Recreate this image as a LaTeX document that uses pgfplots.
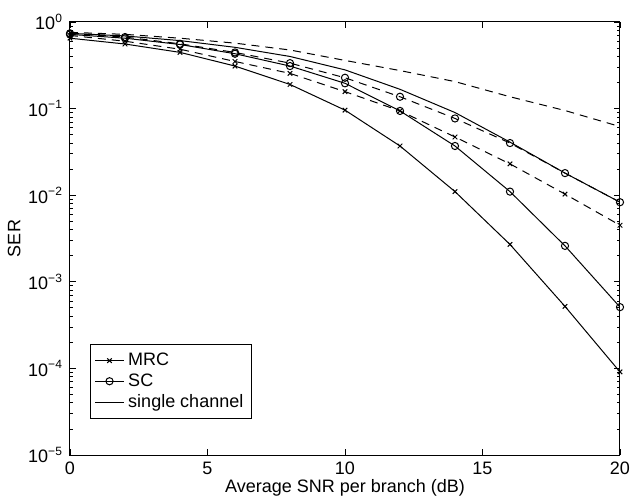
\documentclass[border=0pt]{standalone}
\usepackage{fontspec}
\setmainfont{Liberation Sans}
\usepackage{pgfplots}
\pgfplotsset{compat=1.18}

\begin{document}
\begin{tikzpicture}[font=\fontsize{9}{10.5}\selectfont]
\begin{axis}[
  name=ax,
  scale only axis,
  width=275pt, height=216.5pt,
  ymode=log,
  xmin=0, xmax=20, ymin=1e-5, ymax=1,
  xtick={0,5,10,15,20},
  ytick={1e-5,1e-4,1e-3,1e-2,1e-1,1},
  yticklabels={10\textsuperscript{−5},10\textsuperscript{−4},10\textsuperscript{−3},10\textsuperscript{−2},10\textsuperscript{−1},10\textsuperscript{0}},
  /pgf/number format/assume math mode=true,
  xlabel={Average SNR per branch (dB)},
  ylabel={SER},
  xlabel style={yshift=4.5pt},
  ylabel style={yshift=-3pt},
  major tick length=3pt, minor tick length=1.5pt,
  every axis plot/.append style={line width=0.5pt, black},
  axis line style={line width=0.5pt},
  every tick/.style={black, line width=0.4pt},
  legend style={at={(0.036,0.083)}, anchor=south west, draw=black, line width=0.6pt,
    row sep=-1.5pt, inner sep=2.2pt, font=\fontsize{9}{10.5}\selectfont},
  legend cell align=left,
  legend image code/.code={
    \draw[#1] (0cm,0cm) -- (0.5cm,0cm);
    \draw[#1] plot coordinates {(0.25cm,0cm)};
  },
]
% MRC (solid)
\addplot[mark=x, mark size=1.6pt] coordinates {
  (0,0.65) (2,0.557) (4,0.446) (6,0.31) (8,0.19) (10,0.096)
  (12,0.037) (14,0.011) (16,0.0027) (18,0.00052) (20,0.000091)
};
\addlegendentry{MRC}
% SC (solid)
\addplot[mark=o, mark size=1.8pt] coordinates {
  (0,0.72) (2,0.65) (4,0.55) (6,0.43) (8,0.31) (10,0.196)
  (12,0.094) (14,0.037) (16,0.011) (18,0.0026) (20,0.00051)
};
\addlegendentry{SC}
% single channel (solid)
\addplot[no marks] coordinates {
  (0,0.74) (2,0.69) (4,0.61) (6,0.51) (8,0.40) (10,0.28)
  (12,0.167) (14,0.09) (16,0.041) (18,0.018) (20,0.0083)
};
\addlegendentry{single channel}
% dashed curves
\addplot[forget plot, mark=x, mark size=1.6pt, dash pattern=on 4pt off 3pt,
  mark options={solid}] coordinates {
  (0,0.70) (2,0.60) (4,0.485) (6,0.35) (8,0.255) (10,0.157)
  (12,0.094) (14,0.047) (16,0.023) (18,0.0103) (20,0.0045)
};
\addplot[forget plot, mark=o, mark size=1.8pt, dash pattern=on 4pt off 3pt,
  mark options={solid}] coordinates {
  (0,0.74) (2,0.67) (4,0.56) (6,0.445) (8,0.335) (10,0.227)
  (12,0.137) (14,0.077) (16,0.040) (18,0.018) (20,0.0083)
};
\addplot[forget plot, no marks, dash pattern=on 4pt off 3pt] coordinates {
  (0,0.76) (2,0.72) (4,0.65) (6,0.57) (8,0.475) (10,0.36)
  (12,0.275) (14,0.205) (16,0.137) (18,0.095) (20,0.062)
};
\end{axis}
\pgfresetboundingbox
\path (ax.south west) ++(-35pt,-21.5pt) rectangle ([shift={(9.5pt,11pt)}]ax.north east);
\end{tikzpicture}
\end{document}
